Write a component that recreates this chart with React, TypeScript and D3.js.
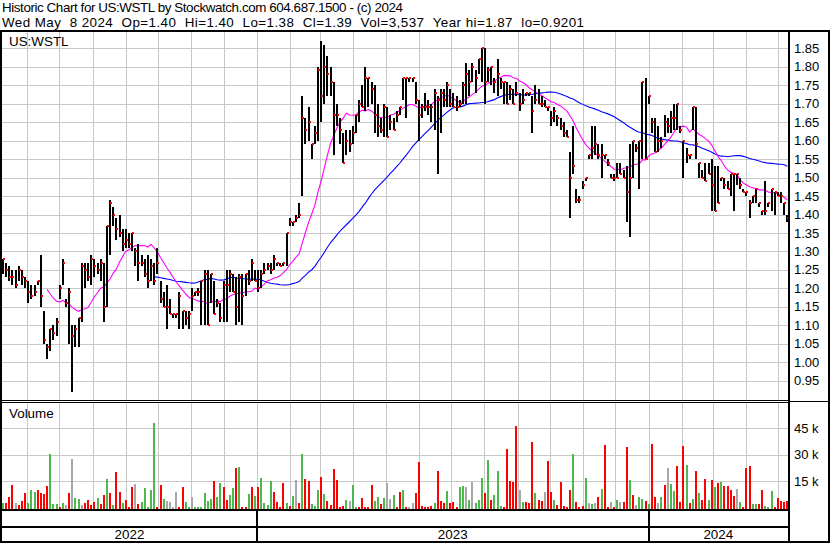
import * as d3 from "d3";

// bars of two trading days each
const hi = [
  1.28,1.27,1.26,1.25,1.25,1.26,1.25,1.23,1.22,1.21,
  1.21,1.22,1.29,1.14,1.05,1.09,1.10,1.12,1.21,1.28,
  1.17,1.20,1.10,1.10,1.12,1.27,1.27,1.27,1.29,1.28,
  1.27,1.28,1.27,1.37,1.44,1.42,1.39,1.40,1.36,1.36,
  1.35,1.35,1.31,1.32,1.29,1.28,1.29,1.28,1.27,1.31,
  1.22,1.19,1.21,1.17,1.13,1.13,1.19,1.14,1.14,1.14,
  1.20,1.19,1.20,1.22,1.25,1.25,1.24,1.22,1.17,1.16,
  1.22,1.25,1.25,1.24,1.23,1.24,1.24,1.24,1.25,1.28,
  1.25,1.25,1.25,1.27,1.27,1.27,1.29,1.27,1.27,1.27,
  1.35,1.39,1.38,1.40,1.43,1.72,1.66,1.69,1.59,1.64,
  1.80,1.87,1.86,1.83,1.80,1.76,1.70,1.66,1.62,1.63,
  1.63,1.64,1.67,1.71,1.75,1.80,1.77,1.76,1.75,1.70,
  1.66,1.70,1.69,1.67,1.66,1.68,1.69,1.77,1.77,1.77,
  1.77,1.76,1.71,1.70,1.73,1.71,1.70,1.74,1.72,1.74,
  1.74,1.76,1.74,1.73,1.72,1.71,1.76,1.81,1.79,1.81,
  1.79,1.82,1.85,1.85,1.80,1.80,1.77,1.82,1.77,1.76,
  1.76,1.75,1.74,1.76,1.73,1.74,1.73,1.73,1.72,1.75,
  1.74,1.72,1.71,1.69,1.68,1.69,1.67,1.66,1.65,1.63,
  1.57,1.64,1.47,1.45,1.49,1.50,1.56,1.64,1.64,1.59,
  1.59,1.56,1.55,1.51,1.51,1.54,1.54,1.52,1.53,1.59,
  1.60,1.59,1.60,1.76,1.77,1.72,1.66,1.66,1.64,1.61,
  1.67,1.66,1.68,1.70,1.70,1.64,1.60,1.58,1.56,1.69,
  1.69,1.54,1.52,1.54,1.54,1.55,1.53,1.53,1.50,1.50,
  1.49,1.51,1.51,1.51,1.50,1.47,1.46,1.44,1.45,1.47,
  1.43,1.41,1.49,1.43,1.47,1.46,1.46,1.46,1.43,1.40,
];
const lo = [
  1.24,1.23,1.22,1.21,1.20,1.22,1.21,1.20,1.16,1.17,
  1.18,1.21,1.15,1.05,1.01,1.03,1.06,1.07,1.17,1.21,
  1.15,1.05,0.92,1.04,1.04,1.11,1.20,1.22,1.21,1.23,
  1.24,1.22,1.11,1.15,1.29,1.37,1.33,1.34,1.30,1.31,
  1.31,1.30,1.26,1.22,1.26,1.23,1.20,1.22,1.21,1.24,
  1.16,1.15,1.09,1.13,1.12,1.12,1.09,1.09,1.10,1.09,
  1.14,1.18,1.18,1.10,1.10,1.10,1.16,1.13,1.15,1.11,
  1.11,1.11,1.19,1.19,1.10,1.11,1.10,1.18,1.21,1.22,
  1.22,1.19,1.20,1.24,1.25,1.24,1.25,1.26,1.26,1.26,
  1.26,1.37,1.37,1.38,1.39,1.45,1.59,1.60,1.55,1.59,
  1.60,1.65,1.70,1.72,1.72,1.56,1.64,1.59,1.54,1.56,
  1.57,1.59,1.62,1.65,1.69,1.68,1.69,1.70,1.62,1.61,
  1.62,1.61,1.61,1.63,1.63,1.65,1.67,1.71,1.66,1.76,
  1.76,1.70,1.60,1.66,1.68,1.67,1.65,1.63,1.51,1.62,
  1.69,1.69,1.69,1.69,1.68,1.69,1.70,1.70,1.72,1.76,
  1.73,1.78,1.76,1.70,1.76,1.75,1.73,1.72,1.74,1.70,
  1.70,1.71,1.70,1.72,1.68,1.70,1.72,1.72,1.62,1.70,
  1.70,1.69,1.69,1.68,1.64,1.65,1.64,1.63,1.61,1.61,
  1.39,1.51,1.43,1.43,1.47,1.49,1.55,1.55,1.56,1.55,
  1.50,1.55,1.53,1.50,1.49,1.50,1.51,1.50,1.38,1.34,
  1.50,1.57,1.47,1.55,1.55,1.70,1.62,1.57,1.57,1.58,
  1.61,1.62,1.62,1.63,1.63,1.62,1.50,1.54,1.55,1.63,
  1.55,1.50,1.50,1.49,1.51,1.41,1.41,1.43,1.49,1.47,
  1.47,1.45,1.41,1.48,1.47,1.46,1.45,1.39,1.43,1.43,
  1.42,1.40,1.40,1.42,1.41,1.40,1.45,1.43,1.40,1.38,
];
const cl = [
  1.28,1.25,1.23,1.23,1.21,1.25,1.23,1.22,1.19,1.18,
  1.19,1.22,1.18,1.06,1.04,1.09,1.08,1.11,1.20,1.27,
  1.16,1.19,1.07,1.09,1.12,1.26,1.25,1.23,1.28,1.26,
  1.25,1.27,1.15,1.37,1.43,1.40,1.36,1.35,1.32,1.33,
  1.32,1.35,1.30,1.27,1.27,1.24,1.22,1.26,1.22,1.27,
  1.17,1.15,1.15,1.13,1.13,1.13,1.18,1.14,1.12,1.13,
  1.18,1.19,1.19,1.22,1.24,1.10,1.24,1.13,1.16,1.12,
  1.21,1.21,1.24,1.19,1.15,1.23,1.18,1.24,1.22,1.27,
  1.22,1.20,1.24,1.25,1.26,1.25,1.28,1.27,1.26,1.27,
  1.35,1.38,1.38,1.39,1.40,1.66,1.63,1.65,1.59,1.62,
  1.79,1.72,1.80,1.78,1.76,1.67,1.67,1.63,1.54,1.60,
  1.59,1.62,1.67,1.70,1.69,1.77,1.77,1.74,1.67,1.64,
  1.63,1.69,1.61,1.65,1.63,1.67,1.69,1.77,1.77,1.77,
  1.77,1.71,1.67,1.69,1.69,1.69,1.69,1.73,1.71,1.73,
  1.71,1.75,1.70,1.69,1.69,1.70,1.75,1.78,1.76,1.80,
  1.77,1.82,1.85,1.76,1.79,1.80,1.76,1.78,1.76,1.76,
  1.70,1.74,1.70,1.73,1.70,1.71,1.73,1.73,1.68,1.71,
  1.70,1.70,1.69,1.69,1.66,1.68,1.66,1.64,1.62,1.61,
  1.50,1.53,1.44,1.44,1.48,1.50,1.56,1.58,1.59,1.56,
  1.56,1.56,1.54,1.50,1.50,1.50,1.51,1.50,1.46,1.50,
  1.60,1.58,1.60,1.76,1.55,1.72,1.65,1.57,1.60,1.60,
  1.65,1.64,1.66,1.66,1.70,1.63,1.60,1.56,1.56,1.69,
  1.59,1.54,1.50,1.49,1.51,1.48,1.41,1.43,1.50,1.48,
  1.47,1.51,1.51,1.51,1.48,1.46,1.46,1.43,1.45,1.47,
  1.43,1.41,1.41,1.43,1.47,1.46,1.45,1.45,1.43,1.39,
];
// volume in thousands
const vol = [
  2.4,2.4,6.2,13,2.4,1.4,3.7,8,2.7,9.9,
  9,9.9,8,7.5,12.2,30.2,2,2,0.5,2.7,
  1.4,8.4,27.6,5.2,4.8,1.4,2.4,4.3,1.4,3.3,
  5.2,1.8,7.1,16.2,8,1.4,20,9,2.7,4.3,
  0.3,11.6,13.2,1.8,2.9,10.9,0.3,9.9,47.8,0.5,
  12.8,4.8,3.7,2.9,0.3,9,0.3,11.8,3.3,0.3,
  6.2,0.5,0.5,0.5,8,3.7,4.8,15,6.2,13.7,
  11.8,4.3,7.1,10.9,22.5,23.2,0.3,0.3,7.5,11.8,
  6.7,11.8,17,2.4,1.4,15,9,3.3,0.3,13.7,
  2.4,0.8,6.7,15.6,2.4,30.2,16.2,15,1.8,1,
  9.9,17.5,7.5,3.7,1.4,21.9,15.6,0.5,1,4.3,
  3.7,12.8,0.5,0.3,5.2,0.5,0.5,12.8,3.7,6.2,
  1.8,5.2,13.7,4.8,7.1,0.5,8.6,9.9,0.5,0.5,
  2.4,8,26,0.8,0.5,0.5,0.8,2.4,20.7,3.7,
  2.4,9.4,2.4,2.9,0.5,11.8,12.4,11.8,4.3,14.3,
  2.4,4.3,17,8,27,4.3,7.1,20.7,0.8,0.5,
  33.2,15,14.3,46.5,9.9,2.9,2.9,2.4,37.4,8,
  4.3,3.7,9,26.4,9,4.3,1.4,14.3,0.8,0.5,
  9.9,30.2,3.3,0.5,0.8,17,2.4,1.8,2.4,6.2,
  10.5,35.5,0.5,2.9,0.5,4.3,2.9,3.3,34.6,15.6,
  7.1,1.4,6.2,4.8,3.7,1.8,35.9,6.2,2.4,6.2,
  12.8,22.6,13.2,9.4,23.8,3.3,35.1,24.1,2.4,4.8,
  20.7,8,4.3,16.2,4.3,15.6,11.8,13.7,14.3,12.4,
  12.4,9.9,6.7,10.5,3.3,0.5,22.3,23.8,1.8,1.8,
  1.8,9.9,1,0.5,9.4,0.5,5.6,3.7,3.3,3.5,
];
// u = up, d = down, n = unchanged (one letter per bar)
const dir = (
  "udddnddduu udddduuudu ndnuundddd uddududdud ddnduuuuud " +
  "dunnnndduu nuuuuuuduu dduududdud uduuuudddd udundudduu " +
  "ududdddddu nuuddddduu dunnuddudn nddddddudd duddduunun " +
  "uuududuuud ddddnudddu ddnddudddd dudddunund uddndunddu " +
  "dnuududdnu dnuudddudu duddududud dddnuddduu dduuuddddd"
).replace(/ /g, "");
const priceTicks = d3.range(19).map((k) => 0.95 + k * 0.05);
const volTicks = [15, 30, 45];
const years = ["2022", "2023", "2024"];
const title = "Historic Chart for US:WSTL by Stockwatch.com 604.687.1500 - (c) 2024";
const quote =
  "Wed May  8 2024  Op=1.40  Hi=1.40  Lo=1.38  Cl=1.39  Vol=3,537  Year hi=1.87  lo=0.9201";

const W = 830;
const H = 543;
const font = "'Liberation Sans', Arial, sans-serif";
const GREEN = "#4db84d";
const GRID = "#c8c8c8";

function sma(vals: number[], n: number) {
  return vals.map((_, i) => (i < n - 1 ? null : d3.mean(vals.slice(i - n + 1, i + 1))!));
}

export default function App() {
  const plotR = 788;
  const xs = d3.scaleLinear().domain([0, hi.length - 1]).range([3, 787.4]);
  const tx = d3
    .scaleTime()
    .domain([new Date(2022, 4, 9), new Date(2024, 4, 9)])
    .range([2.6, 787]);
  const py = d3.scaleLinear().domain([0.95, 1.85]).range([380.7, 48.3]);
  const vy = d3.scaleLinear().domain([0, 45]).range([507.5, 428.3]);

  const months = d3.timeMonth.range(new Date(2022, 5, 1), new Date(2024, 4, 2));
  const yearEdges = [2, tx(new Date(2023, 0, 1)), tx(new Date(2024, 0, 1)), plotR];

  const ma30 = sma(cl, 15);
  const ma100 = sma(cl, 49);
  const line = d3
    .line<number | null>()
    .defined((d) => d != null)
    .x((_, i) => xs(i))
    .y((d) => py(d as number));

  const volColor = (c: string) => (c === "u" ? GREEN : c === "d" ? "#ff0000" : "#a8a8a8");
  const keepSpaces = (s: string) => s.replace(/ /g, "\u00a0");

  return (
    <svg width={W} height={H} style={{ display: "block", background: "#fff" }} fontFamily={font}>
      <style>{`body{margin:0}`}</style>
      <rect width={W} height={H} fill="#fff" />

      {/* header */}
      <text x={2} y={12} fontSize={13.4} fill="#000" textLength={401} lengthAdjust="spacing">
        {title}
      </text>
      <text x={2} y={27} fontSize={13.4} fill="#000" textLength={582} lengthAdjust="spacing">
        {keepSpaces(quote)}
      </text>

      {/* grid */}
      <g shapeRendering="crispEdges" stroke={GRID} strokeWidth={1}>
        {months.map((m, k) => {
          const x = Math.round(tx(m)) + 0.5;
          return (
            <g key={k}>
              <line x1={x} x2={x} y1={32} y2={400} />
              <line x1={x} x2={x} y1={403} y2={509} />
            </g>
          );
        })}
        {priceTicks.map((t, k) => (
          <line key={k} x1={2} x2={plotR} y1={Math.round(py(t)) + 0.5} y2={Math.round(py(t)) + 0.5} />
        ))}
        {volTicks.map((t, k) => (
          <line key={k} x1={2} x2={plotR} y1={Math.round(vy(t)) + 0.5} y2={Math.round(vy(t)) + 0.5} />
        ))}
      </g>

      {/* volume */}
      <g shapeRendering="crispEdges">
        {vol.map((v, i) => {
          const y = Math.round(vy(v));
          return (
            <rect key={i} x={Math.round(xs(i)) - 1} y={y} width={2} height={509 - y} fill={volColor(dir[i])} />
          );
        })}
      </g>

      {/* moving averages */}
      <path d={line(ma100) ?? ""} fill="none" stroke="#0000ff" strokeWidth={1.1} />
      <path d={line(ma30) ?? ""} fill="none" stroke="#ff00ff" strokeWidth={1.1} />

      {/* price bars, then closing ticks on top */}
      <g shapeRendering="crispEdges">
        {hi.map((h, i) => {
          const x = Math.round(xs(i));
          const yt = Math.round(py(h));
          const yb = Math.round(py(lo[i]));
          return yb - yt > 1 ? (
            <rect key={i} x={x - 1} y={yt} width={2} height={yb - yt} fill="#000" />
          ) : null;
        })}
        {cl.map((c, i) => (
          <rect key={i} x={Math.round(xs(i))} y={Math.round(py(c)) - 1} width={2} height={2} fill="#ff0000" />
        ))}
      </g>

      {/* panel labels */}
      <text x={9} y={46} fontSize={13.4} fill="#000">US:WSTL</text>
      <text x={9} y={418} fontSize={13.4} fill="#000">Volume</text>

      {/* right axis labels */}
      {priceTicks.map((t, k) => (
        <text key={k} x={794} y={py(t)} dy="0.35em" fontSize={13} fill="#000">{t.toFixed(2)}</text>
      ))}
      {volTicks.map((t, k) => (
        <text key={k} x={794} y={vy(t)} dy="0.35em" fontSize={13} fill="#000">{keepSpaces(`${t} k`)}</text>
      ))}

      {/* frame */}
      <g fill="#000" shapeRendering="crispEdges">
        <rect x={0} y={30} width={W} height={2} />
        <rect x={0} y={30} width={2} height={513} />
        <rect x={828} y={30} width={2} height={513} />
        <rect x={plotR} y={30} width={2} height={513} />
        <rect x={0} y={400} width={plotR} height={1} />
        <rect x={0} y={402} width={plotR} height={1} />
        <rect x={plotR} y={401} width={40} height={1} />
        <rect x={0} y={509} width={plotR} height={2} />
        <rect x={0} y={526} width={plotR} height={2} />
        <rect x={0} y={541} width={W} height={2} />
        {yearEdges.slice(1, 3).map((e, k) => (
          <rect key={k} x={Math.round(e) - 1} y={510} width={2} height={31} />
        ))}
      </g>
      {years.map((yr, k) => (
        <text key={yr} x={(yearEdges[k] + yearEdges[k + 1]) / 2} y={539} fontSize={13.4} textAnchor="middle" fill="#000">
          {yr}
        </text>
      ))}
    </svg>
  );
}
